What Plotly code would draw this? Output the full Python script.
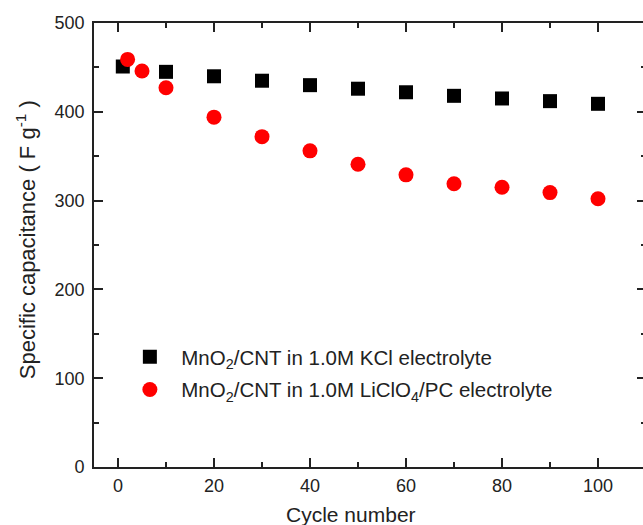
import plotly.graph_objects as go

# Data
kcl_cycles = [1, 10, 20, 30, 40, 50, 60, 70, 80, 90, 100]
kcl_cap = [451, 445, 440, 435, 430, 426, 422, 418, 415, 412, 409]

licl_cycles = [2, 5, 10, 20, 30, 40, 50, 60, 70, 80, 90, 100]
licl_cap = [459, 446, 427, 394, 372, 356, 341, 329, 319, 315, 309, 302]

x_ticks = [0, 20, 40, 60, 80, 100]
y_ticks = [0, 100, 200, 300, 400, 500]

FONT = "Arial, Liberation Sans, sans-serif"

W, H = 660, 525
L, R_EDGE, T, B_EDGE = 94, 648, 23, 467

fig = go.Figure()
fig.add_trace(go.Scatter(
    x=kcl_cycles, y=kcl_cap, mode="markers",
    name="  MnO<sub>2</sub>/CNT in 1.0M KCl electrolyte",
    marker=dict(symbol="square", size=14, color="black"),
    legendgroup="a",
))
fig.add_trace(go.Scatter(
    x=licl_cycles, y=licl_cap, mode="markers",
    name="  MnO<sub>2</sub>/CNT in 1.0M LiClO<sub>4</sub>/PC electrolyte",
    marker=dict(symbol="circle", size=15, color="#ff0000"),
    legendgroup="b",
))

axis_common = dict(
    showline=True, linecolor="#222", linewidth=1.6, mirror="ticks",
    ticks="inside", ticklen=9, tickwidth=1.6, tickcolor="#222",
    showgrid=False, zeroline=False,
    tickfont=dict(family=FONT, size=18, color="#222"),
)

fig.update_xaxes(
    range=[-5, 110], tickvals=x_ticks,
    minor=dict(ticks="inside", ticklen=5, tickwidth=1.6, tickcolor="#222", dtick=10, tick0=0),
    ticklabelstandoff=2,
    **axis_common,
)
fig.update_yaxes(
    range=[0, 500], tickvals=y_ticks,
    minor=dict(ticks="inside", ticklen=5, tickwidth=1.6, tickcolor="#222", dtick=50, tick0=0),
    ticklabelstandoff=4,
    **axis_common,
)

pw = R_EDGE - L
ph = B_EDGE - T

def px_x(p):
    return (p - L) / pw

def px_y(p):
    return (B_EDGE - p) / ph

fig.add_annotation(
    text="Cycle number", xref="paper", yref="paper",
    x=px_x(352), y=px_y(514), xanchor="center", yanchor="middle",
    showarrow=False, font=dict(family=FONT, size=21, color="#222"),
)
fig.add_annotation(
    text="Specific capacitance ( F g<sup>-1</sup> )", xref="paper", yref="paper",
    x=px_x(26), y=px_y(240), xanchor="center", yanchor="middle", textangle=-90,
    showarrow=False, font=dict(family=FONT, size=22, color="#222"),
)

fig.update_layout(
    width=W, height=H,
    margin=dict(l=L, r=W - R_EDGE, t=T, b=H - B_EDGE, pad=0),
    paper_bgcolor="white", plot_bgcolor="white",
    showlegend=True,
    legend=dict(
        x=px_x(130), y=px_y(337), xanchor="left", yanchor="top",
        bgcolor="rgba(0,0,0,0)", borderwidth=0,
        font=dict(family=FONT, size=20.5, color="#222"),
        traceorder="grouped", tracegroupgap=3,
    ),
)

fig.write_html("out.html", post_script="document.body.style.overflow='hidden';document.documentElement.style.overflow='hidden';")
